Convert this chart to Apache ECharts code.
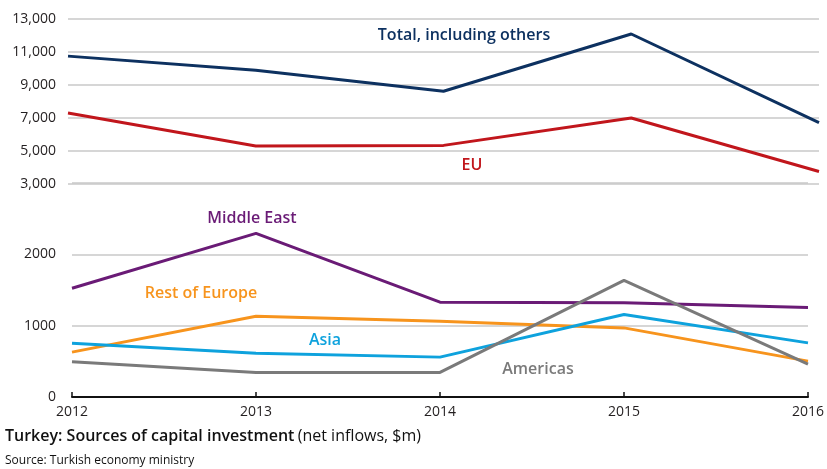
<!DOCTYPE html>
<html>
<head>
<meta charset="utf-8">
<script src="https://cdn.jsdelivr.net/npm/echarts@6/dist/echarts.min.js"></script>
<style>
  html, body { margin: 0; padding: 0; background: #fff; }
  #chart { width: 827px; height: 469px; }
</style>
</head>
<body>
<div id="chart"></div>
<script>
// years along the x axis
const years = ['2012', '2013', '2014', '2015', '2016'];

// upper panel ($m)
const totalVals = [10750, 9900, 8620, 12090, 6720];
const euVals = [7300, 5300, 5340, 7000, 3760];

// lower panel ($m)
const middleEastVals = [1524, 2294, 1329, 1320, 1254];
const restEuropeVals = [629, 1133, 1063, 969, 503];
const asiaVals = [755, 615, 559, 1157, 759];
const americasVals = [494, 345, 345, 1636, 462];

const upperTicks = [3000, 5000, 7000, 9000, 11000, 13000];
const lowerTicks = [0, 1000, 2000];

const FONT = 'Open Sans';
const chart = echarts.init(document.getElementById('chart'));

function line(name, data, color, idx) {
  return {
    name: name, type: 'line', data: data,
    xAxisIndex: idx, yAxisIndex: idx,
    symbol: 'none', smooth: false,
    lineStyle: { color: color, width: 3 }
  };
}

// series name labels, centred on (x, y)
const labelStyle = (txt, x, y, color) => ({
  type: 'text', x: x, y: y,
  style: { text: txt, fill: color, font: '600 16px "' + FONT + '"', align: 'center', verticalAlign: 'middle' }
});

chart.setOption({
  animation: false,
  backgroundColor: '#fff',
  textStyle: { fontFamily: FONT },
  grid: [
    { left: 68, right: 8, top: 19, height: 165 },
    { left: 72, right: 3, top: 183, bottom: 72 }
  ],
  xAxis: [
    { gridIndex: 0, type: 'category', data: years, boundaryGap: false, show: false },
    {
      gridIndex: 1, type: 'category', data: years, boundaryGap: false,
      axisLine: { lineStyle: { color: '#111', width: 2 } },
      axisTick: { inside: true, length: 5, lineStyle: { color: '#111', width: 1.5 } },
      axisLabel: { color: '#231f20', fontSize: 14, margin: 8, fontFamily: FONT }
    }
  ],
  yAxis: [
    {
      gridIndex: 0, type: 'value', min: 3000, max: 13000, interval: 2000,
      axisLine: { show: false }, axisTick: { show: false },
      splitLine: { lineStyle: { color: '#c8c8c8', width: 1.5 } },
      axisLabel: { color: '#231f20', fontSize: 14, margin: 12, fontFamily: FONT,
        formatter: v => upperTicks.includes(v) ? v.toLocaleString('en-US') : '' }
    },
    {
      gridIndex: 1, type: 'value', min: 0, max: 3000, interval: 1000,
      axisLine: { show: false }, axisTick: { show: false },
      splitLine: { lineStyle: { color: '#c8c8c8', width: 1.5 } },
      axisLabel: { color: '#231f20', fontSize: 14, margin: 16, fontFamily: FONT,
        formatter: v => lowerTicks.includes(v) ? String(v) : '' }
    }
  ],
  series: [
    line('Total, including others', totalVals, '#0d3160', 0),
    line('EU', euVals, '#c1161c', 0),
    line('Middle East', middleEastVals, '#6a1b76', 1),
    line('Rest of Europe', restEuropeVals, '#f7941d', 1),
    line('Asia', asiaVals, '#0ea2dd', 1),
    line('Americas', americasVals, '#7a7a7a', 1)
  ],
  graphic: [
    labelStyle('Total, including others', 464, 35, '#0d3160'),
    labelStyle('EU', 472, 165, '#c1161c'),
    labelStyle('Middle East', 252, 218, '#6a1b76'),
    labelStyle('Rest of Europe', 201, 293, '#f7941d'),
    labelStyle('Asia', 325, 340, '#0ea2dd'),
    labelStyle('Americas', 538, 369, '#7a7a7a'),
    {
      type: 'text', left: 5, top: 428,
      style: {
        text: '{b|Turkey: Sources of capital investment} {r|(net inflows, $m)}',
        rich: {
          b: { font: '600 16px "' + FONT + '"', fill: '#111' },
          r: { font: '400 16px "' + FONT + '"', fill: '#111' }
        }
      }
    },
    {
      type: 'text', left: 5, top: 455,
      style: { text: 'Source: Turkish economy ministry', font: '400 12px "' + FONT + '"', fill: '#111' }
    }
  ]
});
</script>
</body>
</html>
